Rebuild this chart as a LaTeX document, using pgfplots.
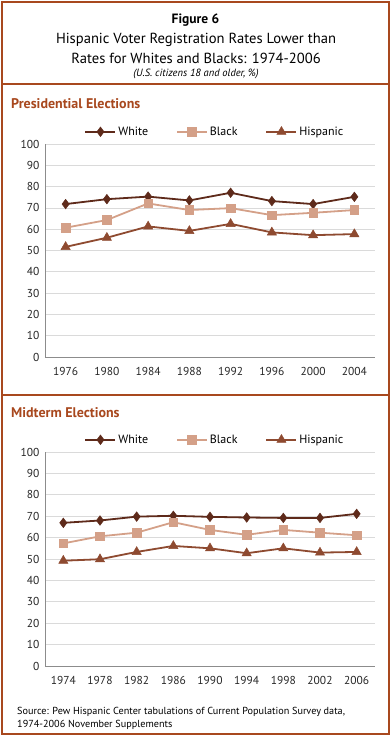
\documentclass[border=0pt]{standalone}
\usepackage{fontspec}
\setmainfont{PT Sans}
\usepackage{pgfplots}
\pgfplotsset{compat=1.18}
\definecolor{frame}{HTML}{A8481E}
\definecolor{cwhite}{HTML}{5E2A1A}
\definecolor{cblack}{HTML}{D4A088}
\definecolor{chisp}{HTML}{8E4A30}
\definecolor{gridc}{HTML}{DADADA}
\pgfplotsset{
  mystyle/.style={
    width=330pt, height=213pt, scale only axis,
    axis x line*=bottom, axis y line*=left,
    axis line style={-, draw=black!45, line width=0.8pt},
    ymin=0, ymax=100, ytick={0,10,...,100},
    ymajorgrids, grid style={gridc, line width=0.8pt},
    major tick length=0pt,
    xtick=data,
    tick label style={font=\fontsize{11.5}{13}\selectfont, text=black!85},
    yticklabel style={xshift=-2pt},
    xticklabel style={yshift=-7pt},
    /pgf/number format/assume math mode=true,
    legend style={draw=none, fill=none, legend columns=3,
      font=\fontsize{12}{14}\selectfont,
      at={(0.515,1)}, anchor=south, yshift=3pt,
      /tikz/every even column/.append style={column sep=26pt}},
    legend image code/.code={\draw[mark repeat=2,mark phase=2,##1] plot coordinates {(0pt,0pt) (15pt,0pt) (30pt,0pt)};},
    every axis plot/.append style={line width=1.8pt},
  },
  wst/.style={cwhite, mark=diamond*, mark size=4.8pt, mark options={solid, line width=0.5pt}},
  bst/.style={cblack, mark=square*, mark size=4.3pt, mark options={solid, line width=0.5pt}},
  hst/.style={chisp, mark=triangle*, mark size=5.3pt, mark options={solid, line width=0.5pt}},
}
\begin{document}
\begin{tikzpicture}[x=1pt,y=1pt]
\useasboundingbox (0,0) rectangle (391,-736);
\draw[frame, line width=2pt] (2,-2) rectangle (389,-734);
\draw[frame, line width=1.5pt] (2,-84) -- (389,-84);
\draw[frame, line width=1.5pt] (2,-395) -- (389,-395);
\node[font=\bfseries\fontsize{13.5}{15}\selectfont] at (195.5,-20) {Figure 6};
\node[font=\fontsize{14.6}{16}\selectfont] at (196,-39.5) {Hispanic Voter Registration Rates Lower than};
\node[font=\fontsize{14.6}{16}\selectfont] at (196,-58) {Rates for Whites and Blacks: 1974-2006};
\node[font=\itshape\fontsize{10.5}{12}\selectfont] at (196,-74) {(U.S. citizens 18 and older, \%)};
\node[font=\bfseries\fontsize{14}{16}\selectfont, text=frame, anchor=west, inner sep=0pt] at (11,-104) {Presidential Elections};
\node[font=\bfseries\fontsize{14}{16}\selectfont, text=frame, anchor=west, inner sep=0pt] at (11,-413) {Midterm Elections};
\node[font=\fontsize{10.2}{13}\selectfont, anchor=north west, align=left, inner sep=0pt] at (17,-707) {Source: Pew Hispanic Center tabulations of Current Population Survey data,\\1974-2006 November Supplements};

\begin{axis}[mystyle, at={(45pt,-357pt)}, anchor=south west,
  xmin=-0.5, xmax=7.5,
  xticklabels={1976,1980,1984,1988,1992,1996,2000,2004}]
\addplot[wst] coordinates {(0,71.8)(1,74.1)(2,75.3)(3,73.5)(4,77.1)(5,73.2)(6,71.8)(7,75.2)};
\addlegendentry{White}
\addplot[bst] coordinates {(0,60.7)(1,64.3)(2,72.1)(3,69.0)(4,69.9)(5,66.6)(6,67.7)(7,69.0)};
\addlegendentry{Black}
\addplot[hst] coordinates {(0,51.7)(1,56.0)(2,61.3)(3,59.2)(4,62.5)(5,58.5)(6,57.2)(7,57.7)};
\addlegendentry{Hispanic}
\end{axis}

\begin{axis}[mystyle, at={(45pt,-666pt)}, anchor=south west, height=214pt,
  xmin=-0.5, xmax=8.5,
  xticklabels={1974,1978,1982,1986,1990,1994,1998,2002,2006}]
\addplot[wst] coordinates {(0,66.9)(1,68.0)(2,69.8)(3,70.2)(4,69.7)(5,69.4)(6,69.2)(7,69.2)(8,71.1)};
\addlegendentry{White}
\addplot[bst] coordinates {(0,57.3)(1,60.6)(2,62.3)(3,67.2)(4,63.6)(5,61.3)(6,63.6)(7,62.3)(8,61.1)};
\addlegendentry{Black}
\addplot[hst] coordinates {(0,49.2)(1,49.9)(2,53.3)(3,56.1)(4,55.0)(5,52.7)(6,55.0)(7,53.0)(8,53.3)};
\addlegendentry{Hispanic}
\end{axis}
\end{tikzpicture}
\end{document}
